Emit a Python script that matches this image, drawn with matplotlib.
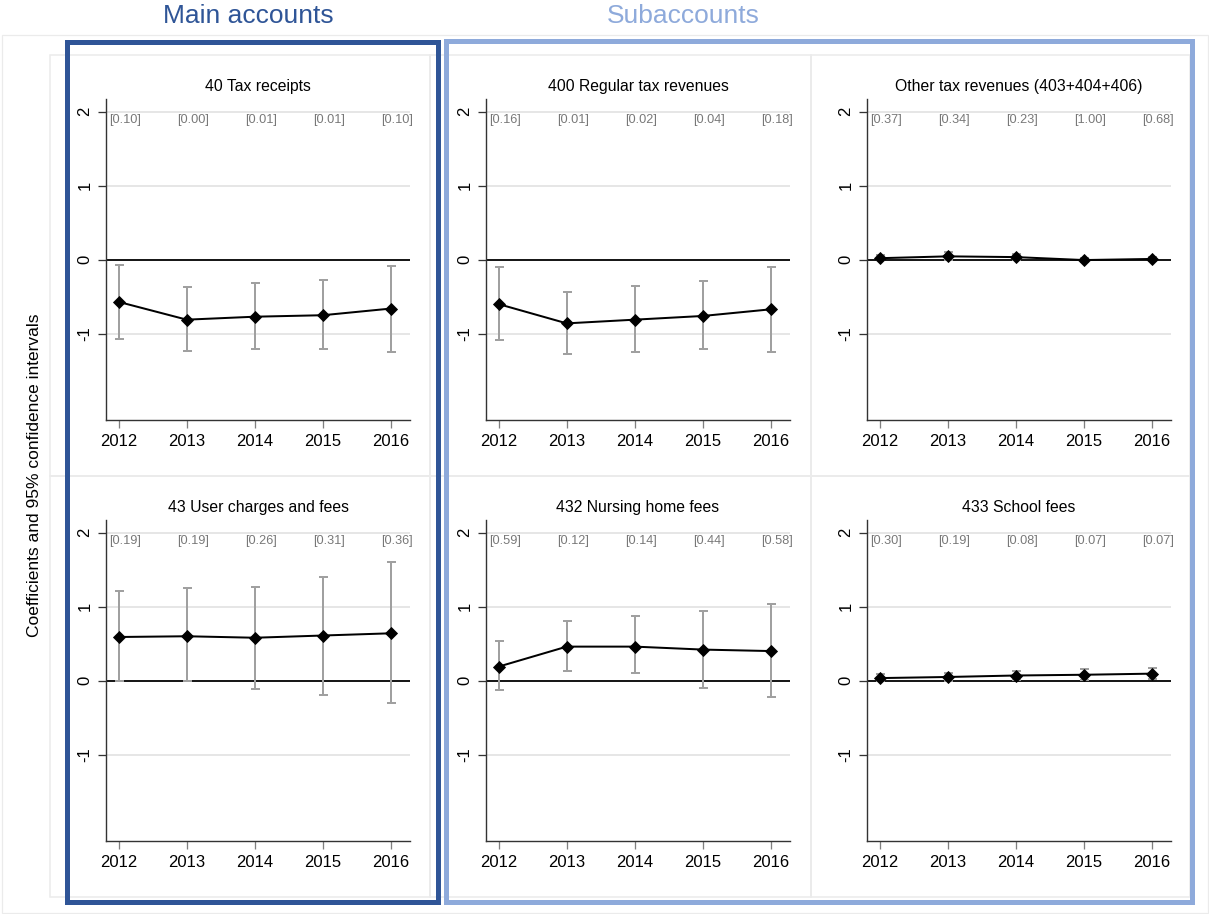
import matplotlib
matplotlib.use("Agg")
import matplotlib.pyplot as plt
from matplotlib.patches import Rectangle
import numpy as np

plt.rcParams["font.family"] = ["Liberation Sans", "DejaVu Sans"]

# ---- data -------------------------------------------------------------
years = [2012, 2013, 2014, 2015, 2016]
year_labels = ["2012", "2013", "2014", "2015", "2016"]
y_ticks = [-1, 0, 1, 2]
y_tick_labels = ["-1", "0", "1", "2"]

group_titles = ["Main accounts", "Subaccounts"]
y_axis_title = "Coefficients and 95% confidence intervals"

titles = [
    "40 Tax receipts",
    "400 Regular tax revenues",
    "Other tax revenues (403+404+406)",
    "43 User charges and fees",
    "432 Nursing home fees",
    "433 School fees",
]

coef_40 = [-0.57, -0.81, -0.77, -0.75, -0.66]
lo_40 = [-1.07, -1.23, -1.20, -1.20, -1.24]
hi_40 = [-0.07, -0.37, -0.31, -0.28, -0.09]
p_40 = ["[0.10]", "[0.00]", "[0.01]", "[0.01]", "[0.10]"]

coef_400 = [-0.60, -0.86, -0.81, -0.76, -0.67]
lo_400 = [-1.08, -1.28, -1.25, -1.20, -1.24]
hi_400 = [-0.10, -0.43, -0.35, -0.29, -0.10]
p_400 = ["[0.16]", "[0.01]", "[0.02]", "[0.04]", "[0.18]"]

coef_other = [0.02, 0.045, 0.035, -0.005, 0.01]
lo_other = [-0.01, 0.00, 0.00, -0.03, -0.02]
hi_other = [0.06, 0.11, 0.08, 0.02, 0.04]
p_other = ["[0.37]", "[0.34]", "[0.23]", "[1.00]", "[0.68]"]

coef_43 = [0.59, 0.60, 0.58, 0.61, 0.64]
lo_43 = [-0.01, -0.01, -0.11, -0.19, -0.30]
hi_43 = [1.21, 1.25, 1.27, 1.40, 1.60]
p_43 = ["[0.19]", "[0.19]", "[0.26]", "[0.31]", "[0.36]"]

coef_432 = [0.19, 0.46, 0.46, 0.42, 0.40]
lo_432 = [-0.13, 0.13, 0.10, -0.10, -0.22]
hi_432 = [0.53, 0.81, 0.87, 0.94, 1.03]
p_432 = ["[0.59]", "[0.12]", "[0.14]", "[0.44]", "[0.58]"]

coef_433 = [0.035, 0.05, 0.07, 0.08, 0.095]
lo_433 = [-0.01, 0.00, 0.015, 0.015, 0.02]
hi_433 = [0.085, 0.10, 0.13, 0.155, 0.17]
p_433 = ["[0.30]", "[0.19]", "[0.08]", "[0.07]", "[0.07]"]

panels = [
    (coef_40, lo_40, hi_40, p_40),
    (coef_400, lo_400, hi_400, p_400),
    (coef_other, lo_other, hi_other, p_other),
    (coef_43, lo_43, hi_43, p_43),
    (coef_432, lo_432, hi_432, p_432),
    (coef_433, lo_433, hi_433, p_433),
]

# ---- layout (pixel geometry of a 1209 x 914 canvas) -------------------
W, H = 1209, 914
fig = plt.figure(figsize=(W / 100, H / 100), dpi=100)
fig.patch.set_facecolor("white")


def fx(x):
    return x / W


def fy(y):
    return 1 - y / H


PX = 0.72  # points per pixel at dpi 100

DARK_BLUE = "#2f5597"
LIGHT_BLUE = "#8eaadb"
PANEL_LINE = "#ebebeb"

# outer light frame and graph cells
fig.add_artist(Rectangle((fx(2), fy(913)), fx(1206), 878 / H, transform=fig.transFigure,
                         fill=False, edgecolor=PANEL_LINE, lw=1.2 * PX, zorder=0))
col_edges = [50, 430, 811, 1190]
row_edges = [55, 476, 897]
for r in range(2):
    for c in range(3):
        x0, x1 = col_edges[c], col_edges[c + 1]
        y0, y1 = row_edges[r], row_edges[r + 1]
        fig.add_artist(Rectangle((fx(x0), fy(y1)), (x1 - x0) / W, (y1 - y0) / H,
                                 transform=fig.transFigure, fill=False,
                                 edgecolor=PANEL_LINE, lw=1.5 * PX, zorder=0))

# group frames
fig.add_artist(Rectangle((fx(67), fy(902)), (437.5 - 67) / W, (902 - 42) / H,
                         transform=fig.transFigure, fill=False,
                         edgecolor=DARK_BLUE, lw=5 * PX, zorder=5))
fig.add_artist(Rectangle((fx(446), fy(901.5)), (1191.5 - 446) / W, (901.5 - 41) / H,
                         transform=fig.transFigure, fill=False,
                         edgecolor=LIGHT_BLUE, lw=5 * PX, zorder=5))

fig.text(fx(248), fy(16), group_titles[0], ha="center", va="center",
         fontsize=19, color=DARK_BLUE)
fig.text(fx(683), fy(16), group_titles[1], ha="center", va="center",
         fontsize=19, color=LIGHT_BLUE)

fig.text(fx(35), fy(475), y_axis_title, ha="center", va="center",
         rotation=90, fontsize=12.5, color="black")

col_left = [106, 486, 867]
row_top = [99, 520]
ax_w, ax_h = 304, 321
x_lim = (2011.814, 2016.28)
y_lim = (-2.165, 2.17)

for i, (coef, lo, hi, pv) in enumerate(panels):
    r, c = divmod(i, 3)
    left, top = col_left[c], row_top[r]
    ax = fig.add_axes([fx(left), fy(top + ax_h), ax_w / W, ax_h / H])
    ax.set_xlim(*x_lim)
    ax.set_ylim(*y_lim)

    for g in (-1, 1, 2):
        ax.axhline(g, color="#e4e4e4", lw=1.8 * PX, zorder=1)
    ax.axhline(0, color="black", lw=1.8 * PX, zorder=2)

    coef_a = np.array(coef)
    lo_a = np.array(lo)
    hi_a = np.array(hi)
    ax.errorbar(years, coef_a, yerr=[coef_a - lo_a, hi_a - coef_a], fmt="none",
                ecolor="#a0a0a0", elinewidth=2.0 * PX, capsize=4.5 * PX,
                capthick=2.0 * PX, zorder=3)
    ax.plot(years, coef_a, color="black", lw=2.0 * PX, marker="D",
            markersize=6.0, markeredgewidth=0.6, zorder=4)

    for yr, label in zip(years, pv):
        ax.text(yr + 0.09, 1.88, label, ha="center", va="center",
                fontsize=9.2, color="#787878", zorder=5)

    ax.set_xticks(years)
    ax.set_xticklabels(year_labels)
    ax.set_yticks(y_ticks)
    ax.set_yticklabels(y_tick_labels, rotation=90, va="center")
    ax.tick_params(axis="x", length=8 * PX, width=1.3 * PX, color="#808080",
                   labelsize=12, pad=4)
    ax.tick_params(axis="y", length=8 * PX, width=1.3 * PX, color="#333333",
                   labelsize=12, pad=4)
    for side in ("top", "right"):
        ax.spines[side].set_visible(False)
    ax.spines["left"].set_color("#333333")
    ax.spines["bottom"].set_color("#333333")
    ax.spines["left"].set_linewidth(1.4 * PX)
    ax.spines["bottom"].set_linewidth(1.4 * PX)

    fig.text(fx(left + ax_w / 2), fy(top - 12.5), titles[i], ha="center",
             va="center", fontsize=11.3)

fig.savefig("out.png", dpi=100, facecolor="white")
